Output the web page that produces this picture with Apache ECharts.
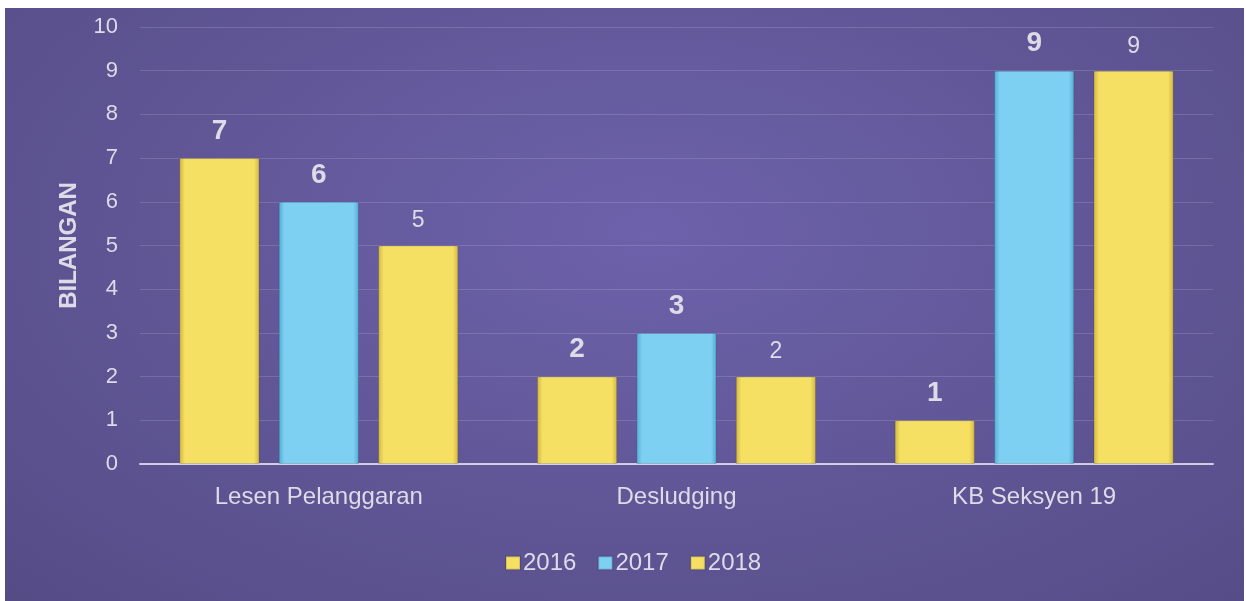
<!DOCTYPE html>
<html>
<head>
<meta charset="utf-8">
<script src="https://cdn.jsdelivr.net/npm/echarts@6/dist/echarts.min.js"></script>
<style>
html,body{margin:0;padding:0;background:#ffffff;}
#bg{position:absolute;left:5px;top:8px;width:1239px;height:593px;
 background:radial-gradient(ellipse at 52% 38%, #6d62ab 0%, #625899 45%, #554c86 100%);}
#chart{position:absolute;left:0;top:0;width:1246px;height:601px;}
</style>
</head>
<body>
<div id="bg"></div>
<div id="chart"></div>
<script>
const categories = ['Lesen Pelanggaran', 'Desludging', 'KB Seksyen 19'];
const seriesNames = ['2016', '2017', '2018'];
const values2016 = [7, 2, 1];
const values2017 = [6, 3, 9];
const values2018 = [5, 2, 9];
const yTicks = [0, 1, 2, 3, 4, 5, 6, 7, 8, 9, 10];

function grad(edge, mid) {
  return new echarts.graphic.LinearGradient(0, 0, 1, 0, [
    {offset: 0, color: edge},
    {offset: 0.07, color: mid},
    {offset: 0.93, color: mid},
    {offset: 1, color: edge}
  ]);
}
const yellow = grad('#d2b53e', '#f5e064');
const blue = grad('#52abd2', '#7ed0f2');
const labelColor = '#dedbe8';
const font = '"Liberation Sans", Arial, sans-serif';

const chart = echarts.init(document.getElementById('chart'), null, {renderer: 'canvas'});
function mk(name, data, color, bold) {
  return {
    name: name,
    type: 'bar',
    data: data,
    barGap: '24%',
    barCategoryGap: '22%',
    itemStyle: {color: color, borderColor: 'rgba(0,0,0,0.12)', borderWidth: 1},
    label: {
      show: true, position: 'top', distance: 13,
      color: labelColor, fontFamily: font,
      fontSize: bold ? 28 : 23, fontWeight: bold ? 'bold' : 'normal'
    }
  };
}
chart.setOption({
  animation: false,
  backgroundColor: 'transparent',
  textStyle: {fontFamily: font},
  grid: {left: 140, right: 33, top: 27, bottom: 137, containLabel: false},
  legend: {
    data: seriesNames,
    left: 500, top: 546,
    itemWidth: 14, itemHeight: 13, itemGap: 21,
    icon: 'rect',
    textStyle: {color: labelColor, fontSize: 24, fontFamily: font, padding: [0, 0, 0, -2]}
  },
  xAxis: {
    type: 'category',
    data: categories,
    axisLine: {lineStyle: {color: 'rgba(235,232,245,0.8)', width: 2}},
    axisTick: {show: false},
    axisLabel: {color: labelColor, fontSize: 24, margin: 21, fontFamily: font}
  },
  yAxis: {
    type: 'value',
    min: yTicks[0], max: yTicks[yTicks.length - 1], interval: 1,
    name: 'BILANGAN',
    nameLocation: 'middle',
    nameGap: 59,
    nameRotate: 90,
    nameTextStyle: {color: labelColor, fontSize: 24, fontWeight: 'bold', fontFamily: font},
    axisLine: {show: false},
    axisTick: {show: false},
    axisLabel: {color: labelColor, fontSize: 22, margin: 22, fontFamily: font},
    splitLine: {lineStyle: {color: 'rgba(255,255,255,0.14)', width: 1}}
  },
  series: [
    mk(seriesNames[0], values2016, yellow, true),
    mk(seriesNames[1], values2017, blue, true),
    mk(seriesNames[2], values2018, yellow, false)
  ]
});
</script>
</body>
</html>
